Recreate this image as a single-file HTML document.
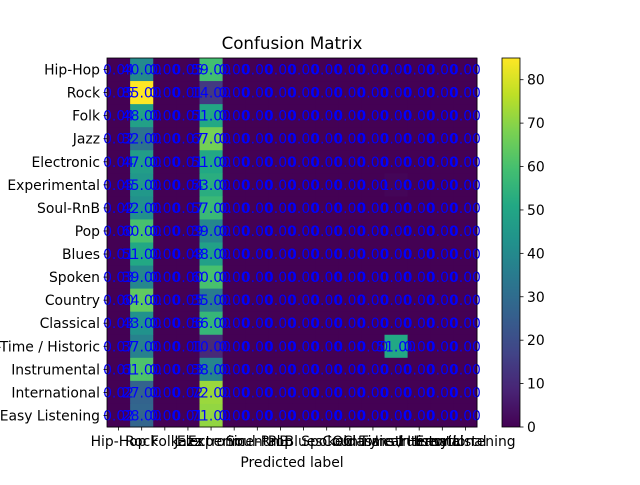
<!DOCTYPE html>
<html><head><meta charset="utf-8"><style>
body{margin:0;background:#fff;}
svg text{font-family:"DejaVu Sans","Liberation Sans",sans-serif;}
</style></head><body>
<svg id="chart" width="640" height="480" xmlns="http://www.w3.org/2000/svg">
<text x="292" y="49" font-size="16.7" text-anchor="middle">Confusion Matrix</text>
<text x="292" y="467" font-size="13.9" text-anchor="middle">Predicted label</text>
<g id="cells"></g><g id="labels"></g><g id="ticks"></g><g id="cbar"></g>
</svg>
<script>
const categories=["Hip-Hop","Rock","Folk","Jazz","Electronic","Experimental","Soul-RnB","Pop","Blues","Spoken","Country","Classical","Old-Time / Historic","Instrumental","International","Easy Listening"];
const col0=[0.04,0.05,0.04,0.02,0.04,0.05,0.02,0.00,0.01,0.03,0.00,0.03,0.07,0.01,0.02,0.02];
const rockCol=[40,85,48,32,47,45,42,60,51,39,64,43,37,61,27,28];
const col3=[0.05,0.01,0.01,0.07,0.01,0.04,0.07,0.09,0.08,0.00,0.05,0.06,0.01,0.03,0.02,0.01];
const expCol=[59,14,51,67,51,53,57,39,48,60,35,56,10,38,72,71];
const oldTimeCol=[0,0,0,0,0,1,0,0,0,0,0,0,51,0,0,0];
const cbarTicks=[0,10,20,30,40,50,60,70,80];
const vmax=85;
const NS="http://www.w3.org/2000/svg";
const X0=107,Y0=58,W=370,H=369,n=categories.length,cw=W/n,ch=H/n;
const xs=i=>X0+i*cw, ys=i=>Y0+i*ch;
const vir=[[68,1,84],[72,36,117],[65,68,135],[53,95,141],[42,120,142],[33,145,140],[34,168,132],[68,191,112],[122,209,81],[189,223,38],[253,231,37]];
function color(v){let t=Math.max(0,Math.min(1,v/vmax))*(vir.length-1);let i=Math.min(Math.floor(t),vir.length-2),f=t-i;
const c=vir[i].map((a,k)=>Math.round(a+(vir[i+1][k]-a)*f));return `rgb(${c})`;}
function mk(tag,attrs,parent){const e=document.createElementNS(NS,tag);for(const k in attrs)e.setAttribute(k,attrs[k]);parent.appendChild(e);return e;}
const M=categories.map((_,r)=>categories.map((_,c)=>c===0?col0[r]:c===1?rockCol[r]:c===3?col3[r]:c===4?expCol[r]:c===12?oldTimeCol[r]:0));
const gc=document.getElementById('cells'),gl=document.getElementById('labels'),gt=document.getElementById('ticks'),gb=document.getElementById('cbar');
for(let r=0;r<n;r++)for(let c=0;c<n;c++){
 const rect=mk('rect',{x:xs(c),y:ys(r),width:cw+0.5,height:ch+0.5,fill:color(M[r][c])},gc);
 
 
}
for(let r=0;r<n;r++)for(let c=0;c<n;c++){
 const t=mk('text',{x:xs(c)+cw/2,y:ys(r)+ch/2+5,'font-size':13.9,fill:'#0000ff','text-anchor':'middle'},gl);
 t.textContent=M[r][c].toFixed(2);
 
 
}
mk('rect',{x:X0,y:Y0,width:W,height:H,fill:'none',stroke:'#000','stroke-width':0.8},gt);
categories.forEach((lab,i)=>{
 mk('line',{x1:X0,x2:X0-3.5,y1:ys(i)+ch/2,y2:ys(i)+ch/2,stroke:'#000','stroke-width':0.8},gt);
 const yl=mk('text',{x:X0-7,y:ys(i)+ch/2+5,'font-size':13.9,'text-anchor':'end'},gt);yl.textContent=lab;
 
 
 mk('line',{x1:xs(i)+cw/2,x2:xs(i)+cw/2,y1:Y0+H,y2:Y0+H+3.5,stroke:'#000','stroke-width':0.8},gt);
 const xl=mk('text',{x:xs(i)+cw/2,y:Y0+H+19,'font-size':13.9,'text-anchor':'middle'},gt);xl.textContent=lab;
 
 
});
const CX=502,CW=18,CY0=58,CH=369;
const defs=mk('defs',{},gb);const lg=mk('linearGradient',{id:'vg',x1:0,y1:1,x2:0,y2:0},defs);
vir.forEach((c,i)=>mk('stop',{offset:i/(vir.length-1),'stop-color':`rgb(${c})`},lg));
const cb=mk('rect',{x:CX,y:CY0,width:CW,height:CH,fill:'url(#vg)',stroke:'#000','stroke-width':0.8},gb);


const cy=v=>CY0+CH-(v/vmax)*CH;
cbarTicks.forEach(v=>{
 mk('line',{x1:CX+CW,x2:CX+CW+3.5,y1:cy(v),y2:cy(v),stroke:'#000','stroke-width':0.8},gb);
 const t=mk('text',{x:CX+CW+7,y:cy(v)+5,'font-size':13.9},gb);t.textContent=v;
 
 
});
</script>
</body></html>
